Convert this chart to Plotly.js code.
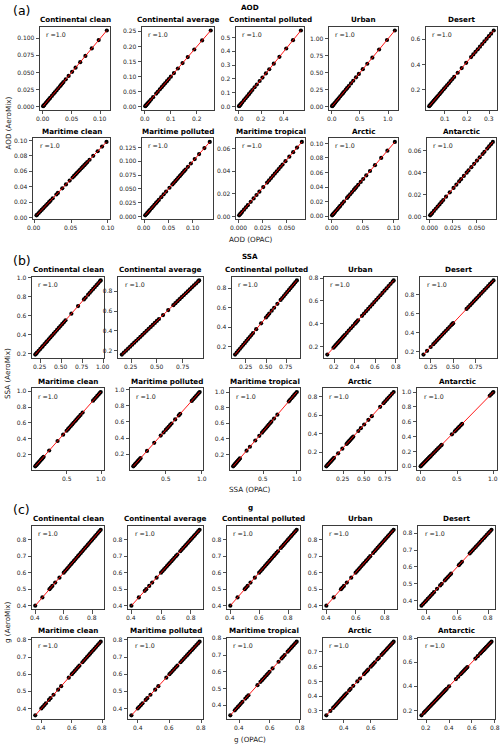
<!DOCTYPE html>
<html><head><meta charset="utf-8">
<script src="https://cdn.plot.ly/plotly-3.0.1.min.js"></script>
<style>html,body{margin:0;padding:0;background:#fff}#chart{width:500px;height:748px}</style>
</head><body><div id="chart"></div>
<script>
// ---------------- DATA ----------------
const categories = ['Continental clean','Continental average','Continental polluted','Urban','Desert',
                    'Maritime clean','Maritime polluted','Maritime tropical','Arctic','Antarctic'];
const variables = ['AOD','SSA','g'];
const panelLetters = ['(a)','(b)','(c)'];
const xLabels = ['AOD (OPAC)','SSA (OPAC)','g (OPAC)'];
const yLabels = ['AOD (AeroMix)','SSA (AeroMix)','g (AeroMix)'];
const rValues = [1.0,1.0,1.0,1.0,1.0,1.0,1.0,1.0,1.0,1.0, 1.0,1.0,1.0,1.0,1.0,1.0,1.0,1.0,1.0,1.0, 1.0,1.0,1.0,1.0,1.0,1.0,1.0,1.0,1.0,1.0];

// AOD
const aod_cc_x = [0.001,0.002,0.003,0.005,0.007,0.009,0.011,0.013,0.016,0.019,0.021,0.024,0.027,0.030,0.032,0.034,0.036,0.040,0.045,0.051,0.057,0.065,0.074,0.085,0.097,0.111];
const aod_cc_y = [0.001,0.002,0.003,0.005,0.007,0.009,0.011,0.013,0.016,0.019,0.021,0.024,0.027,0.030,0.032,0.034,0.036,0.040,0.045,0.051,0.057,0.065,0.074,0.085,0.097,0.111];
const aod_ca_x = [0.002,0.004,0.006,0.008,0.011,0.014,0.018,0.024,0.032,0.044,0.050,0.058,0.065,0.072,0.078,0.085,0.092,0.100,0.112,0.127,0.145,0.165,0.190,0.220,0.253];
const aod_ca_y = [0.002,0.004,0.006,0.008,0.011,0.014,0.018,0.024,0.032,0.044,0.050,0.058,0.065,0.072,0.078,0.085,0.092,0.100,0.112,0.127,0.145,0.165,0.190,0.220,0.253];
const aod_cp_x = [0.003,0.006,0.010,0.015,0.020,0.030,0.045,0.060,0.075,0.090,0.105,0.120,0.140,0.160,0.185,0.210,0.240,0.270,0.310,0.360,0.420,0.480,0.550];
const aod_cp_y = [0.003,0.006,0.010,0.015,0.020,0.030,0.045,0.060,0.075,0.090,0.105,0.120,0.140,0.160,0.185,0.210,0.240,0.270,0.310,0.360,0.420,0.480,0.550];
const aod_ur_x = [0.005,0.010,0.020,0.030,0.045,0.060,0.080,0.100,0.120,0.150,0.180,0.200,0.220,0.250,0.270,0.300,0.340,0.380,0.430,0.480,0.550,0.630,0.720,0.840,0.980,1.120];
const aod_ur_y = [0.005,0.010,0.020,0.030,0.045,0.060,0.080,0.100,0.120,0.150,0.180,0.200,0.220,0.250,0.270,0.300,0.340,0.380,0.430,0.480,0.550,0.630,0.720,0.840,0.980,1.120];
const aod_de_x = [0.030,0.034,0.038,0.042,0.046,0.050,0.055,0.060,0.065,0.070,0.076,0.082,0.088,0.095,0.102,0.110,0.118,0.126,0.134,0.142,0.158,0.176,0.196,0.218,0.228,0.238,0.248,0.258,0.268,0.278,0.288,0.298,0.308,0.320];
const aod_de_y = [0.070,0.078,0.087,0.095,0.103,0.112,0.122,0.132,0.143,0.153,0.165,0.178,0.190,0.205,0.219,0.236,0.252,0.269,0.285,0.302,0.335,0.372,0.414,0.459,0.480,0.501,0.521,0.542,0.563,0.583,0.604,0.625,0.645,0.670];
const aod_mc_x = [0.003,0.004,0.006,0.008,0.010,0.012,0.014,0.016,0.018,0.020,0.022,0.025,0.030,0.032,0.038,0.043,0.048,0.052,0.054,0.056,0.058,0.060,0.062,0.064,0.066,0.068,0.070,0.072,0.075,0.080,0.086,0.092,0.098];
const aod_mc_y = [0.003,0.004,0.006,0.008,0.010,0.012,0.014,0.016,0.018,0.020,0.022,0.025,0.030,0.032,0.038,0.043,0.048,0.052,0.054,0.056,0.058,0.060,0.062,0.064,0.066,0.068,0.070,0.072,0.075,0.080,0.086,0.092,0.098];
const aod_mp_x = [0.002,0.004,0.006,0.008,0.010,0.012,0.015,0.018,0.021,0.024,0.027,0.030,0.035,0.040,0.045,0.052,0.058,0.061,0.064,0.067,0.070,0.073,0.076,0.079,0.082,0.085,0.090,0.096,0.104,0.113,0.124,0.135];
const aod_mp_y = [0.002,0.004,0.006,0.008,0.010,0.012,0.015,0.018,0.021,0.024,0.027,0.030,0.035,0.040,0.045,0.052,0.058,0.061,0.064,0.067,0.070,0.073,0.076,0.079,0.082,0.085,0.090,0.096,0.104,0.113,0.124,0.135];
const aod_mt_x = [0.001,0.002,0.003,0.004,0.006,0.008,0.010,0.013,0.016,0.019,0.022,0.026,0.030,0.032,0.034,0.036,0.038,0.040,0.042,0.044,0.046,0.049,0.053,0.057,0.061,0.066];
const aod_mt_y = [0.001,0.002,0.003,0.004,0.006,0.008,0.010,0.013,0.016,0.019,0.022,0.026,0.030,0.032,0.034,0.036,0.038,0.040,0.042,0.044,0.046,0.049,0.053,0.057,0.061,0.066];
const aod_ar_x = [0.001,0.002,0.003,0.004,0.006,0.008,0.010,0.012,0.014,0.017,0.020,0.025,0.027,0.030,0.033,0.036,0.038,0.040,0.043,0.047,0.051,0.056,0.062,0.070,0.080,0.090,0.102];
const aod_ar_y = [0.001,0.002,0.003,0.004,0.006,0.008,0.010,0.012,0.014,0.017,0.020,0.025,0.027,0.030,0.033,0.036,0.038,0.040,0.043,0.047,0.051,0.056,0.062,0.070,0.080,0.090,0.102];
const aod_an_x = [0.001,0.002,0.003,0.005,0.007,0.009,0.011,0.013,0.015,0.018,0.022,0.026,0.029,0.032,0.034,0.037,0.040,0.042,0.045,0.048,0.051,0.054,0.057,0.059,0.062,0.064,0.066,0.068];
const aod_an_y = [0.001,0.002,0.003,0.005,0.007,0.009,0.011,0.013,0.015,0.018,0.022,0.026,0.029,0.032,0.034,0.037,0.040,0.042,0.045,0.048,0.051,0.054,0.057,0.059,0.062,0.064,0.066,0.068];

// SSA
const ssa_cc_x = [0.19,0.20,0.21,0.23,0.25,0.27,0.28,0.30,0.32,0.33,0.35,0.37,0.39,0.41,0.43,0.45,0.47,0.49,0.51,0.53,0.55,0.62,0.70,0.77,0.79,0.82,0.84,0.86,0.88,0.90,0.92,0.94,0.96,0.97];
const ssa_cc_y = [0.19,0.20,0.21,0.23,0.25,0.27,0.28,0.30,0.32,0.33,0.35,0.37,0.39,0.41,0.43,0.45,0.47,0.49,0.51,0.53,0.55,0.62,0.70,0.77,0.79,0.82,0.84,0.86,0.88,0.90,0.92,0.94,0.96,0.97];
const ssa_ca_x = [0.16,0.18,0.20,0.22,0.24,0.26,0.28,0.30,0.32,0.34,0.36,0.38,0.40,0.42,0.44,0.46,0.48,0.50,0.52,0.56,0.61,0.66,0.68,0.70,0.72,0.74,0.76,0.78,0.80,0.82,0.84,0.86,0.88,0.90,0.91];
const ssa_ca_y = [0.16,0.18,0.20,0.22,0.24,0.26,0.28,0.30,0.32,0.34,0.36,0.38,0.40,0.42,0.44,0.46,0.48,0.50,0.52,0.56,0.61,0.66,0.68,0.70,0.72,0.74,0.76,0.78,0.80,0.82,0.84,0.86,0.88,0.90,0.91];
const ssa_cp_x = [0.12,0.14,0.16,0.18,0.20,0.22,0.24,0.26,0.28,0.30,0.32,0.34,0.38,0.44,0.50,0.52,0.54,0.57,0.60,0.64,0.68,0.70,0.72,0.74,0.76,0.78,0.80,0.82,0.84,0.86,0.88];
const ssa_cp_y = [0.12,0.14,0.16,0.18,0.20,0.22,0.24,0.26,0.28,0.30,0.32,0.34,0.38,0.44,0.50,0.52,0.54,0.57,0.60,0.64,0.68,0.70,0.72,0.74,0.76,0.78,0.80,0.82,0.84,0.86,0.88];
const ssa_ur_x = [0.13,0.19,0.20,0.21,0.22,0.23,0.24,0.25,0.26,0.27,0.28,0.29,0.30,0.32,0.34,0.36,0.38,0.40,0.41,0.42,0.43,0.47,0.49,0.51,0.53,0.55,0.57,0.59,0.61,0.63,0.65,0.67,0.69,0.71,0.73,0.75,0.77,0.78];
const ssa_ur_y = [0.13,0.19,0.20,0.21,0.22,0.23,0.24,0.25,0.26,0.27,0.28,0.29,0.30,0.32,0.34,0.36,0.38,0.40,0.41,0.42,0.43,0.47,0.49,0.51,0.53,0.55,0.57,0.59,0.61,0.63,0.65,0.67,0.69,0.71,0.73,0.75,0.77,0.78];
const ssa_de_x = [0.17,0.21,0.25,0.28,0.30,0.32,0.34,0.36,0.38,0.40,0.42,0.44,0.46,0.48,0.49,0.50,0.65,0.67,0.69,0.71,0.73,0.75,0.77,0.79,0.81,0.83,0.85,0.87,0.89,0.91,0.93,0.95];
const ssa_de_y = [0.17,0.21,0.25,0.28,0.30,0.32,0.34,0.36,0.38,0.40,0.42,0.44,0.46,0.48,0.49,0.50,0.65,0.67,0.69,0.71,0.73,0.75,0.77,0.79,0.81,0.83,0.85,0.87,0.89,0.91,0.93,0.95];
const ssa_mc_x = [0.05,0.06,0.07,0.08,0.09,0.10,0.11,0.12,0.13,0.14,0.15,0.16,0.17,0.25,0.37,0.45,0.50,0.52,0.54,0.56,0.58,0.60,0.62,0.64,0.66,0.68,0.70,0.73,0.88,0.90,0.92,0.94,0.96,0.98,0.99];
const ssa_mc_y = [0.05,0.06,0.07,0.08,0.09,0.10,0.11,0.12,0.13,0.14,0.15,0.16,0.17,0.25,0.37,0.45,0.50,0.52,0.54,0.56,0.58,0.60,0.62,0.64,0.66,0.68,0.70,0.73,0.88,0.90,0.92,0.94,0.96,0.98,0.99];
const ssa_mp_x = [0.05,0.06,0.07,0.08,0.09,0.10,0.11,0.12,0.13,0.14,0.15,0.24,0.34,0.43,0.47,0.50,0.52,0.54,0.56,0.58,0.63,0.68,0.70,0.86,0.88,0.90,0.92,0.94,0.96,0.97];
const ssa_mp_y = [0.05,0.06,0.07,0.08,0.09,0.10,0.11,0.12,0.13,0.14,0.15,0.24,0.34,0.43,0.47,0.50,0.52,0.54,0.56,0.58,0.63,0.68,0.70,0.86,0.88,0.90,0.92,0.94,0.96,0.97];
const ssa_mt_x = [0.05,0.06,0.07,0.08,0.09,0.10,0.11,0.12,0.13,0.14,0.15,0.25,0.30,0.38,0.44,0.48,0.50,0.52,0.54,0.56,0.58,0.60,0.62,0.66,0.71,0.88,0.90,0.92,0.94,0.96,0.98,1.00];
const ssa_mt_y = [0.05,0.06,0.07,0.08,0.09,0.10,0.11,0.12,0.13,0.14,0.15,0.25,0.30,0.38,0.44,0.48,0.50,0.52,0.54,0.56,0.58,0.60,0.62,0.66,0.71,0.88,0.90,0.92,0.94,0.96,0.98,1.00];
const ssa_ar_x = [0.05,0.06,0.07,0.08,0.09,0.10,0.11,0.12,0.13,0.14,0.19,0.24,0.29,0.30,0.31,0.32,0.33,0.34,0.35,0.36,0.37,0.43,0.46,0.50,0.55,0.59,0.69,0.73,0.75,0.77,0.79,0.81,0.83,0.85];
const ssa_ar_y = [0.05,0.06,0.07,0.08,0.09,0.10,0.11,0.12,0.13,0.14,0.19,0.24,0.29,0.30,0.31,0.32,0.33,0.34,0.35,0.36,0.37,0.43,0.46,0.50,0.55,0.59,0.69,0.73,0.75,0.77,0.79,0.81,0.83,0.85];
const ssa_an_x = [0.00,0.01,0.02,0.03,0.04,0.05,0.06,0.07,0.08,0.09,0.10,0.11,0.12,0.13,0.14,0.16,0.18,0.20,0.22,0.24,0.26,0.28,0.29,0.43,0.47,0.49,0.51,0.53,0.55,0.57,0.95,0.97,0.99,1.00];
const ssa_an_y = [0.00,0.01,0.02,0.03,0.04,0.05,0.06,0.07,0.08,0.09,0.10,0.11,0.12,0.13,0.14,0.16,0.18,0.20,0.22,0.24,0.26,0.28,0.29,0.43,0.47,0.49,0.51,0.53,0.55,0.57,0.95,0.97,0.99,1.00];

// g (asymmetry parameter)
const g_cc_x = [0.40,0.45,0.50,0.51,0.52,0.54,0.57,0.60,0.61,0.62,0.63,0.64,0.65,0.66,0.67,0.68,0.69,0.70,0.71,0.72,0.73,0.74,0.75,0.76,0.77,0.78,0.79,0.80,0.81,0.82,0.83,0.84,0.85,0.86];
const g_cc_y = [0.40,0.45,0.50,0.51,0.52,0.54,0.57,0.60,0.61,0.62,0.63,0.64,0.65,0.66,0.67,0.68,0.69,0.70,0.71,0.72,0.73,0.74,0.75,0.76,0.77,0.78,0.79,0.80,0.81,0.82,0.83,0.84,0.85,0.86];
const g_ca_x = [0.40,0.45,0.49,0.50,0.52,0.54,0.57,0.60,0.61,0.62,0.63,0.64,0.65,0.66,0.67,0.68,0.69,0.70,0.71,0.73,0.74,0.75,0.76,0.77,0.78,0.79,0.80,0.81,0.82,0.83,0.84,0.85,0.86];
const g_ca_y = [0.40,0.45,0.49,0.50,0.52,0.54,0.57,0.60,0.61,0.62,0.63,0.64,0.65,0.66,0.67,0.68,0.69,0.70,0.71,0.73,0.74,0.75,0.76,0.77,0.78,0.79,0.80,0.81,0.82,0.83,0.84,0.85,0.86];
const g_cp_x = [0.40,0.45,0.50,0.51,0.52,0.54,0.57,0.60,0.61,0.62,0.63,0.64,0.65,0.66,0.67,0.68,0.69,0.70,0.71,0.72,0.73,0.75,0.76,0.77,0.78,0.79,0.80,0.81,0.82,0.83,0.84,0.85,0.86];
const g_cp_y = [0.40,0.45,0.50,0.51,0.52,0.54,0.57,0.60,0.61,0.62,0.63,0.64,0.65,0.66,0.67,0.68,0.69,0.70,0.71,0.72,0.73,0.75,0.76,0.77,0.78,0.79,0.80,0.81,0.82,0.83,0.84,0.85,0.86];
const g_ur_x = [0.40,0.45,0.50,0.51,0.52,0.54,0.57,0.60,0.61,0.62,0.63,0.64,0.65,0.66,0.67,0.68,0.69,0.70,0.72,0.73,0.74,0.75,0.76,0.77,0.78,0.79,0.80,0.81,0.82,0.83,0.84,0.85,0.86];
const g_ur_y = [0.40,0.45,0.50,0.51,0.52,0.54,0.57,0.60,0.61,0.62,0.63,0.64,0.65,0.66,0.67,0.68,0.69,0.70,0.72,0.73,0.74,0.75,0.76,0.77,0.78,0.79,0.80,0.81,0.82,0.83,0.84,0.85,0.86];
const g_de_x = [0.37,0.38,0.39,0.40,0.41,0.42,0.43,0.44,0.45,0.47,0.49,0.50,0.52,0.53,0.54,0.55,0.56,0.61,0.62,0.63,0.68,0.69,0.70,0.71,0.72,0.73,0.74,0.75,0.76,0.77,0.78,0.79,0.80,0.81,0.82];
const g_de_y = [0.37,0.38,0.39,0.40,0.41,0.42,0.43,0.44,0.45,0.47,0.49,0.50,0.52,0.53,0.54,0.55,0.56,0.61,0.62,0.63,0.68,0.69,0.70,0.71,0.72,0.73,0.74,0.75,0.76,0.77,0.78,0.79,0.80,0.81,0.82];
const g_mc_x = [0.36,0.40,0.41,0.42,0.43,0.45,0.46,0.48,0.51,0.53,0.58,0.60,0.61,0.62,0.63,0.64,0.65,0.67,0.68,0.69,0.70,0.71,0.72,0.73,0.74,0.75,0.76,0.77,0.78,0.79];
const g_mc_y = [0.36,0.40,0.41,0.42,0.43,0.45,0.46,0.48,0.51,0.53,0.58,0.60,0.61,0.62,0.63,0.64,0.65,0.67,0.68,0.69,0.70,0.71,0.72,0.73,0.74,0.75,0.76,0.77,0.78,0.79];
const g_mp_x = [0.36,0.40,0.41,0.42,0.43,0.45,0.46,0.48,0.51,0.53,0.58,0.60,0.61,0.62,0.63,0.64,0.65,0.67,0.68,0.69,0.70,0.71,0.72,0.73,0.74,0.75,0.76,0.77,0.78,0.79];
const g_mp_y = [0.36,0.40,0.41,0.42,0.43,0.45,0.46,0.48,0.51,0.53,0.58,0.60,0.61,0.62,0.63,0.64,0.65,0.67,0.68,0.69,0.70,0.71,0.72,0.73,0.74,0.75,0.76,0.77,0.78,0.79];
const g_mt_x = [0.34,0.37,0.38,0.39,0.40,0.41,0.42,0.44,0.45,0.46,0.52,0.54,0.55,0.56,0.57,0.58,0.59,0.60,0.62,0.66,0.68,0.69,0.70,0.72,0.73,0.74,0.75,0.76,0.77,0.78];
const g_mt_y = [0.34,0.37,0.38,0.39,0.40,0.41,0.42,0.44,0.45,0.46,0.52,0.54,0.55,0.56,0.57,0.58,0.59,0.60,0.62,0.66,0.68,0.69,0.70,0.72,0.73,0.74,0.75,0.76,0.77,0.78];
const g_ar_x = [0.27,0.30,0.32,0.33,0.34,0.35,0.36,0.37,0.38,0.39,0.40,0.41,0.42,0.44,0.45,0.47,0.50,0.52,0.55,0.56,0.57,0.58,0.60,0.61,0.62,0.63,0.65,0.66,0.68,0.69,0.70,0.71,0.72,0.73,0.74,0.75,0.76,0.77];
const g_ar_y = [0.27,0.30,0.32,0.33,0.34,0.35,0.36,0.37,0.38,0.39,0.40,0.41,0.42,0.44,0.45,0.47,0.50,0.52,0.55,0.56,0.57,0.58,0.60,0.61,0.62,0.63,0.65,0.66,0.68,0.69,0.70,0.71,0.72,0.73,0.74,0.75,0.76,0.77];
const g_an_x = [0.16,0.18,0.19,0.20,0.21,0.22,0.23,0.24,0.25,0.26,0.27,0.28,0.29,0.30,0.31,0.32,0.33,0.34,0.35,0.36,0.37,0.38,0.40,0.46,0.48,0.50,0.51,0.52,0.53,0.54,0.55,0.56,0.63,0.65,0.67,0.68,0.69,0.70,0.71,0.72,0.73,0.74,0.75,0.76,0.77];
const g_an_y = [0.16,0.18,0.19,0.20,0.21,0.22,0.23,0.24,0.25,0.26,0.27,0.28,0.29,0.30,0.31,0.32,0.33,0.34,0.35,0.36,0.37,0.38,0.40,0.46,0.48,0.50,0.51,0.52,0.53,0.54,0.55,0.56,0.63,0.65,0.67,0.68,0.69,0.70,0.71,0.72,0.73,0.74,0.75,0.76,0.77];

// ---------------- LAYOUT / STYLE ----------------
const series = [
  [aod_cc_x,aod_cc_y],[aod_ca_x,aod_ca_y],[aod_cp_x,aod_cp_y],[aod_ur_x,aod_ur_y],[aod_de_x,aod_de_y],
  [aod_mc_x,aod_mc_y],[aod_mp_x,aod_mp_y],[aod_mt_x,aod_mt_y],[aod_ar_x,aod_ar_y],[aod_an_x,aod_an_y],
  [ssa_cc_x,ssa_cc_y],[ssa_ca_x,ssa_ca_y],[ssa_cp_x,ssa_cp_y],[ssa_ur_x,ssa_ur_y],[ssa_de_x,ssa_de_y],
  [ssa_mc_x,ssa_mc_y],[ssa_mp_x,ssa_mp_y],[ssa_mt_x,ssa_mt_y],[ssa_ar_x,ssa_ar_y],[ssa_an_x,ssa_an_y],
  [g_cc_x,g_cc_y],[g_ca_x,g_ca_y],[g_cp_x,g_cp_y],[g_ur_x,g_ur_y],[g_de_x,g_de_y],
  [g_mc_x,g_mc_y],[g_mp_x,g_mp_y],[g_mt_x,g_mt_y],[g_ar_x,g_ar_y],[g_an_x,g_an_y]
];

const W = 500, H = 748;
const rowsPx = [[26.7,110],[138.3,219],[276.7,358.3],[388.3,470],[526,609.5],[638,719]];
const colsPx = [
  [[40,110],[142,214],[236,304],[329,398],[426,497]],
  [[33,110],[142,213],[236,305],[329,398],[427,496]],
  [[32,104],[118,203],[232,300],[324,397],[420,497]],
  [[32,104],[130,203],[230,300],[323,397],[417,497]],
  [[32,104],[128,203],[227,300],[323,397],[418,495]],
  [[32,104],[128,203],[227,300],[323,397],[418,495]]
];
// [x dtick, x format, y dtick, y format]
const tickCfg = [
  [0.05,'.2f',0.025,'.3f'],[0.1,'.1f',0.05,'.2f'],[0.2,'.1f',0.1,'.1f'],[0.5,'.1f',0.25,'.2f'],[0.1,'.1f',0.2,'.1f'],
  [0.05,'.2f',0.02,'.2f'],[0.05,'.2f',0.025,'.3f'],[0.025,'.3f',0.02,'.2f'],[0.05,'.2f',0.02,'.2f'],[0.025,'.3f',0.02,'.2f'],
  [0.25,'.2f',0.2,'.1f'],[0.25,'.2f',0.2,'.1f'],[0.25,'.2f',0.2,'.1f'],[0.2,'.1f',0.2,'.1f'],[0.25,'.2f',0.2,'.1f'],
  [0.5,'.1f',0.2,'.1f'],[0.5,'.1f',0.2,'.1f'],[0.5,'.1f',0.2,'.1f'],[0.25,'.2f',0.2,'.1f'],[0.5,'.1f',0.2,'.1f'],
  [0.2,'.1f',0.1,'.1f'],[0.2,'.1f',0.1,'.1f'],[0.2,'.1f',0.1,'.1f'],[0.2,'.1f',0.1,'.1f'],[0.2,'.1f',0.1,'.1f'],
  [0.2,'.1f',0.1,'.1f'],[0.2,'.1f',0.1,'.1f'],[0.2,'.1f',0.1,'.1f'],[0.2,'.1f',0.1,'.1f'],[0.2,'.1f',0.2,'.1f']
];

const FONT = 'DejaVu Sans, Liberation Sans, sans-serif';
const TXT = '#1a1a1a';
function padRange(a){ const mn=Math.min(...a), mx=Math.max(...a), s=mx-mn; return [mn-0.05*s, mx+0.05*s]; }
function ticksFor(rng, step){
  const out = []; const start = Math.ceil((rng[0] - 1e-9) / step);
  for (let n = start; n * step <= rng[1] + 1e-9; n++) out.push(+(n * step).toFixed(4));
  return out;
}
function fmt(v, f){ const d = parseInt(f.slice(1)); return v.toFixed(d); }
const px2x = p => p / W;
const py2y = p => 1 - p / H;

const traces = [];
const layout = {
  width: W, height: H, margin: {l:0,r:0,t:0,b:0},
  paper_bgcolor: '#fff', plot_bgcolor: '#fff', showlegend: false,
  font: {family: FONT, color: TXT},
  annotations: []
};

for (let k = 0; k < 30; k++) {
  const r = Math.floor(k / 5), c = k % 5;
  const id = k === 0 ? '' : String(k + 1);
  const [xs, ys] = series[k];
  traces.push({x: xs, y: ys, type: 'scatter', mode: 'markers',
    marker: {color: '#000', size: 4.2, line: {width: 0}},
    xaxis: 'x' + id, yaxis: 'y' + id, hoverinfo: 'skip'});
  traces.push({x: [Math.min(...xs), Math.max(...xs)], y: [Math.min(...ys), Math.max(...ys)],
    type: 'scatter', mode: 'lines', line: {color: '#ff0000', width: 0.9},
    xaxis: 'x' + id, yaxis: 'y' + id, hoverinfo: 'skip'});
  const [xd, xf, yd, yf] = tickCfg[k];
  const [l, rr] = colsPx[r][c];
  const [top, bot] = rowsPx[r];
  const xr = padRange(xs), yr = padRange(ys);
  const common = {showgrid: false, zeroline: false, showline: true, mirror: true, linecolor: '#262626', linewidth: 0.9,
    ticks: 'outside', ticklen: 3.5, tickwidth: 0.8, tickcolor: '#262626', tickangle: 0,
    tickfont: {family: FONT, size: 6, color: TXT}, fixedrange: true, automargin: false};
  const xt = ticksFor(xr, xd), yt = ticksFor(yr, yd);
  // x tick marks from the axis; x tick labels as axis-anchored text (robust placement below each panel)
  layout['xaxis' + id] = Object.assign({}, common, {domain: [px2x(l), px2x(rr)], anchor: 'y' + id,
    range: xr, tickmode: 'array', tickvals: xt, showticklabels: false});
  layout['yaxis' + id] = Object.assign({}, common, {domain: [py2y(bot), py2y(top)], anchor: 'x' + id,
    range: yr, tickmode: 'array', tickvals: yt, ticktext: yt.map(v => fmt(v, yf))});
  xt.forEach(v => layout.annotations.push({text: fmt(v, xf), xref: 'x' + id, yref: 'y' + id + ' domain',
    x: v, y: 0, xanchor: 'center', yanchor: 'top', yshift: -3.8, borderpad: 0, showarrow: false,
    font: {family: FONT, size: 6, color: TXT}}));
  layout.annotations.push({text: '<b>' + categories[k % 10] + '</b>', xref: 'paper', yref: 'paper',
    x: px2x((l + rr) / 2), y: py2y(top - 7.3), xanchor: 'center', yanchor: 'middle', showarrow: false,
    font: {family: FONT, size: 7.2, color: '#000'}});
  layout.annotations.push({text: 'r =' + rValues[k].toFixed(1), xref: 'x' + id + ' domain', yref: 'y' + id + ' domain',
    x: 0.06, y: 0.905, xanchor: 'left', yanchor: 'middle', showarrow: false,
    font: {family: FONT, size: 6.3, color: TXT}});
}

const groupTitleY = [7, 256, 507];
const groupLetterY = [10, 260, 510];
const xLabelY = [239.5, 489.3, 739.3];
const yLabelY = [123, 373.5, 622.5];
for (let g = 0; g < 3; g++) {
  layout.annotations.push({text: panelLetters[g], xref: 'paper', yref: 'paper', x: px2x(11), y: py2y(groupLetterY[g]),
    xanchor: 'left', yanchor: 'middle', showarrow: false, font: {family: FONT, size: 12.5, color: '#000'}});
  layout.annotations.push({text: '<b>' + variables[g] + '</b>', xref: 'paper', yref: 'paper', x: 0.5, y: py2y(groupTitleY[g]),
    xanchor: 'center', yanchor: 'middle', showarrow: false, font: {family: FONT, size: 7.2, color: '#000'}});
  layout.annotations.push({text: xLabels[g], xref: 'paper', yref: 'paper', x: 0.5, y: py2y(xLabelY[g]),
    xanchor: 'center', yanchor: 'middle', showarrow: false, font: {family: FONT, size: 7.2, color: TXT}});
  layout.annotations.push({text: yLabels[g], xref: 'paper', yref: 'paper', x: px2x(7.5), y: py2y(yLabelY[g]),
    xanchor: 'center', yanchor: 'middle', textangle: -90, showarrow: false, font: {family: FONT, size: 7.2, color: TXT}});
}

Plotly.newPlot('chart', traces, layout, {staticPlot: true, displayModeBar: false});
</script>
</body></html>
